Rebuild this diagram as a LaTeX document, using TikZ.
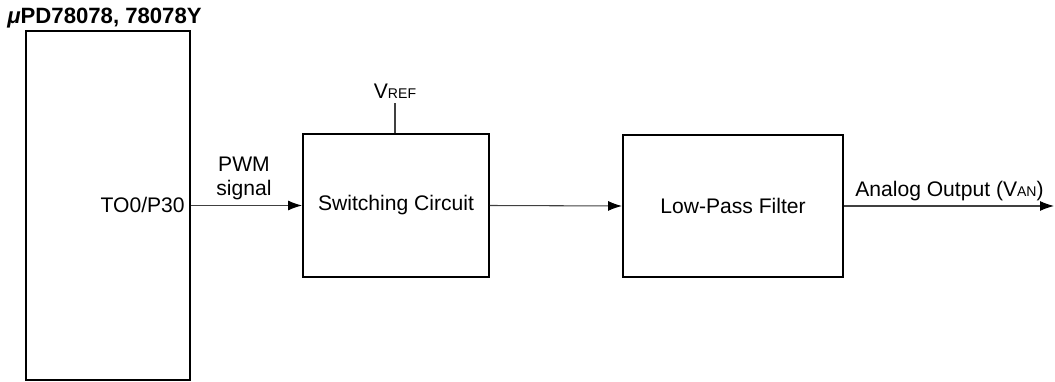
\documentclass[tikz,border=0pt]{standalone}
\usepackage{fontspec}
\setmainfont{Liberation Sans}
\usetikzlibrary{arrows.meta}

\begin{document}
\begin{tikzpicture}[
  blk/.style={draw, line width=1.1pt, inner sep=0pt},
  sig/.style={-{Latex[length=0.28cm,width=0.2cm,fill=black,color=black]}, line width=0.6pt, black!75},
  txt/.style={font=\fontsize{12}{14.2}\selectfont},
]
\useasboundingbox (0,0) rectangle (21.1,7.62);
\node[blk, minimum width=3.28cm, minimum height=6.98cm] (mcu) at (2.165,3.51) {};
\node[font=\fontsize{12.6}{15}\selectfont, anchor=base west, inner sep=0pt] (ttl) at (0.14,7.14) {\bfseries\itshape μ\upshape PD78078, 78078Y};
\node[txt, anchor=base east, inner sep=0pt] (pin) at (3.70,3.36) {TO0/P30};
\node[txt, align=center, anchor=base, inner sep=0pt] (pwm) at (4.88,3.70) {PWM\\signal};
\node[blk, txt, minimum width=3.72cm, minimum height=2.86cm] (sw) at (7.92,3.51) {Switching Circuit};
\node[txt, anchor=base, inner sep=0pt] (vref) at (7.90,5.64) {V{\fontsize{8}{9}\selectfont REF}};
\node[blk, txt, minimum width=4.40cm, minimum height=2.84cm] (lpf) at (14.66,3.50) {Low-Pass Filter};
\coordinate (out) at (21.08,3.50);
\node[txt, anchor=base, inner sep=0pt] (aout) at (18.99,3.68) {Analog Output (V{\fontsize{8}{9}\selectfont AN})};
\draw[sig] (mcu.east |- sw.west) -- (sw.west);
\draw[sig] (sw.east) -- (lpf.west);
\draw[sig] (lpf.east) -- (out);
\draw[line width=0.6pt, black!75] (sw.north -| vref) -- ++(0,0.60);
\end{tikzpicture}
\end{document}
